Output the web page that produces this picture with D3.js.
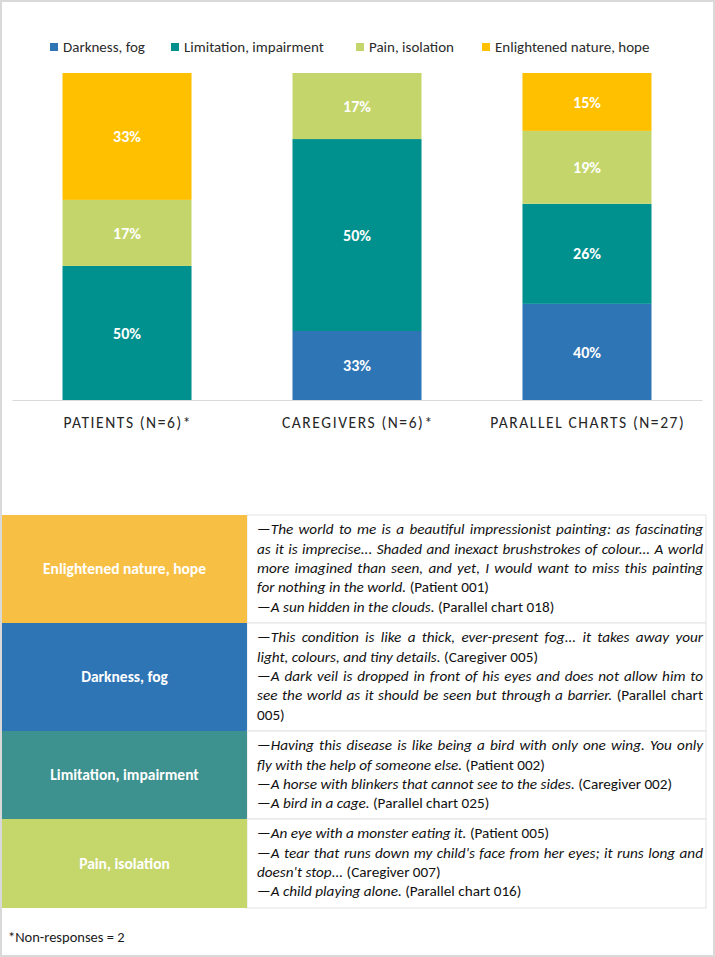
<!DOCTYPE html>
<html>
<head>
<meta charset="utf-8">
<script src="https://cdn.jsdelivr.net/npm/d3@7"></script>
<style>
  body { margin: 0; background: #fff; }
  svg { display: block; }
</style>
</head>
<body>
<div id="chart"></div>
<script>
'use strict';

// chart data (segment heights, labels as printed)
const categories = ["PATIENTS (N=6)*", "CAREGIVERS (N=6)*", "PARALLEL CHARTS (N=27)"];
const seriesNames = ["Darkness, fog", "Limitation, impairment", "Pain, isolation", "Enlightened nature, hope"];
const seriesColors = ["#2e75b6", "#00918e", "#c4d66b", "#ffc000"];
const darkness = [0, 21.1, 29.4];
const limitation = [41.0, 58.7, 30.6];
const pain = [20.2, 20.2, 22.3];
const hope = [38.8, 0, 17.7];
const darknessLabels = ["", "33%", "40%"];
const limitationLabels = ["50%", "50%", "26%"];
const painLabels = ["17%", "17%", "19%"];
const hopeLabels = ["33%", "", "15%"];

// table data
const tableThemes = ["Enlightened nature, hope", "Darkness, fog", "Limitation, impairment", "Pain, isolation"];
const tableColors = ["#f8bf45", "#2e75b6", "#3d918f", "#c5d66a"];
// each line: [segments, justified]; segment: [text, italic]
const tableQuotes = [
    [
        [[["—The world to me is a beautiful impressionist painting: as fascinating", true]], true],
        [[["as it is imprecise... Shaded and inexact brushstrokes of colour... A world", true]], true],
        [[["more imagined than seen, and yet, I would want to miss this painting", true]], true],
        [[["for nothing in the world.", true], [" (Patient 001)", false]], false],
        [[["—A sun hidden in the clouds.", true], [" (Parallel chart 018)", false]], false]
    ],
    [
        [[["—This condition is like a thick, ever-present fog... it takes away your", true]], true],
        [[["light, colours, and tiny details.", true], [" (Caregiver 005)", false]], false],
        [[["—A dark veil is dropped in front of his eyes and does not allow him to", true]], true],
        [[["see the world as it should be seen but through a barrier.", true], [" (Parallel chart", false]], true],
        [[["005)", false]], false]
    ],
    [
        [[["—Having this disease is like being a bird with only one wing. You only", true]], true],
        [[["fly with the help of someone else.", true], [" (Patient 002)", false]], false],
        [[["—A horse with blinkers that cannot see to the sides.", true], [" (Caregiver 002)", false]], false],
        [[["—A bird in a cage.", true], [" (Parallel chart 025)", false]], false]
    ],
    [
        [[["—An eye with a monster eating it.", true], [" (Patient 005)", false]], false],
        [[["—A tear that runs down my child's face from her eyes; it runs long and", true]], true],
        [[["doesn't stop...", true], [" (Caregiver 007)", false]], false],
        [[["—A child playing alone.", true], [" (Parallel chart 016)", false]], false]
    ]
];
const footnote = "*Non-responses = 2";

const width = 715;
const height = 957;
const font = "Carlito, Calibri, Lato, sans-serif";

const svg = d3.select("#chart")
    .append("svg")
    .attr("width", width)
    .attr("height", height)
    .style("font-family", font);

svg.append("rect")
    .attr("x", 1).attr("y", 1)
    .attr("width", width - 2).attr("height", height - 2)
    .attr("fill", "#fff")
    .attr("stroke", "#d9d9d9")
    .attr("stroke-width", 2);

// ---- stacked bars ----
const x = d3.scaleBand()
    .domain(categories)
    .range([12, 702])
    .paddingInner(0.439)
    .paddingOuter(0.2196);

const y = d3.scaleLinear()
    .domain([0, 100])
    .range([400, 73]);

const rows = categories.map((c, i) => ({
    category: c,
    [seriesNames[0]]: darkness[i],
    [seriesNames[1]]: limitation[i],
    [seriesNames[2]]: pain[i],
    [seriesNames[3]]: hope[i]
}));
const labelSets = [darknessLabels, limitationLabels, painLabels, hopeLabels];

const stacked = d3.stack().keys(seriesNames)(rows);

const layers = svg.append("g")
    .selectAll("g")
    .data(stacked)
    .join("g")
    .attr("fill", (d, i) => seriesColors[i]);

layers.selectAll("rect")
    .data(d => d)
    .join("rect")
    .attr("x", d => x(d.data.category))
    .attr("y", d => y(d[1]))
    .attr("width", x.bandwidth())
    .attr("height", d => y(d[0]) - y(d[1]));

layers.each(function (layer, li) {
    d3.select(this).selectAll("text")
        .data(layer.filter((d, i) => labelSets[li][i] !== ""))
        .join("text")
        .attr("x", d => x(d.data.category) + x.bandwidth() / 2)
        .attr("y", d => (y(d[0]) + y(d[1])) / 2)
        .attr("dy", "0.35em")
        .attr("text-anchor", "middle")
        .attr("fill", "#fff")
        .attr("font-weight", "bold")
        .attr("font-size", 16)
        .text(d => labelSets[li][categories.indexOf(d.data.category)]);
});

// axis
const xAxis = svg.append("g")
    .attr("transform", `translate(0,${y(0)})`)
    .call(d3.axisBottom(x).tickSize(0).tickPadding(17));
xAxis.select(".domain")
    .attr("stroke", "#d9d9d9")
    .attr("d", "M12.5,0.5H702.5");
xAxis.selectAll("text")
    .attr("font-family", font)
    .attr("font-size", 15.5)
    .attr("letter-spacing", "1.6px")
    .attr("dx", "0.8px")
    .attr("fill", "#262626");

// legend
const legendX = [50, 171, 356, 482];
const legend = svg.append("g")
    .selectAll("g")
    .data(seriesNames)
    .join("g")
    .attr("transform", (d, i) => `translate(${legendX[i]},47)`);
legend.append("rect")
    .attr("x", 0).attr("y", -4)
    .attr("width", 8).attr("height", 8)
    .attr("fill", (d, i) => seriesColors[i]);
legend.append("text")
    .attr("x", 13)
    .attr("dy", "0.35em")
    .attr("font-size", 15)
    .attr("fill", "#2b2b2b")
    .text(d => d);

// ---- table ----
const rowTops = [515, 623, 731, 819, 908];
const leftW = 245;
const tableLeft = 2;
const tableRight = 706;
const textLeft = 257;
const textWidth = 446;
const lineStep = 19.3;
const quoteSize = 15.2;

const table = svg.append("g");

function measure(word, italic) {
    const t = svg.append("text")
        .attr("font-size", quoteSize)
        .attr("font-style", italic ? "italic" : "normal")
        .text(word);
    const w = t.node().getComputedTextLength();
    t.remove();
    return w;
}
const space = measure("a a", false) - measure("aa", false);

tableThemes.forEach((theme, r) => {
    const top = rowTops[r];
    const h = rowTops[r + 1] - top;
    table.append("rect")
        .attr("x", tableLeft + leftW).attr("y", top)
        .attr("width", tableRight - tableLeft - leftW).attr("height", h)
        .attr("fill", "#fff")
        .attr("stroke", "#e3e3e3");
    table.append("rect")
        .attr("x", tableLeft).attr("y", top)
        .attr("width", leftW).attr("height", h)
        .attr("fill", tableColors[r]);
    table.append("text")
        .attr("x", tableLeft + leftW / 2)
        .attr("y", top + h / 2)
        .attr("dy", "0.35em")
        .attr("text-anchor", "middle")
        .attr("fill", "#fff")
        .attr("font-weight", "bold")
        .attr("font-size", 15.5)
        .text(theme);

    tableQuotes[r].forEach((line, li) => {
        const [segments, justify] = line;
        const words = [];
        segments.forEach(([txt, it]) => {
            txt.split(" ").filter(w => w.length).forEach(w => words.push({ w, it, width: measure(w, it) }));
        });
        const sum = d3.sum(words, d => d.width);
        let gap = space;
        let scale = 1;
        if (justify && words.length > 1) gap = (textWidth - sum) / (words.length - 1);
        if (sum + gap * (words.length - 1) > textWidth) {
            gap = space * 0.85;
            scale = (textWidth - gap * (words.length - 1)) / sum;
        }
        let cx = textLeft;
        words.forEach(wd => { wd.x = cx; cx += wd.width * scale + gap; });

        table.append("g")
            .selectAll("text")
            .data(words)
            .join("text")
            .attr("x", d => d.x)
            .attr("y", top + 14 + li * lineStep)
            .attr("dy", "0.35em")
            .attr("font-size", quoteSize)
            .attr("font-style", d => d.it ? "italic" : "normal")
            .attr("fill", "#111")
            .attr("textLength", d => scale < 1 ? d.width * scale : null)
            .attr("lengthAdjust", d => scale < 1 ? "spacingAndGlyphs" : null)
            .text(d => d.w);
    });
});

svg.append("text")
    .attr("x", 8)
    .attr("y", 937)
    .attr("dy", "0.35em")
    .attr("font-size", 14.5)
    .attr("fill", "#1a1a1a")
    .text(footnote);
</script>
</body>
</html>
